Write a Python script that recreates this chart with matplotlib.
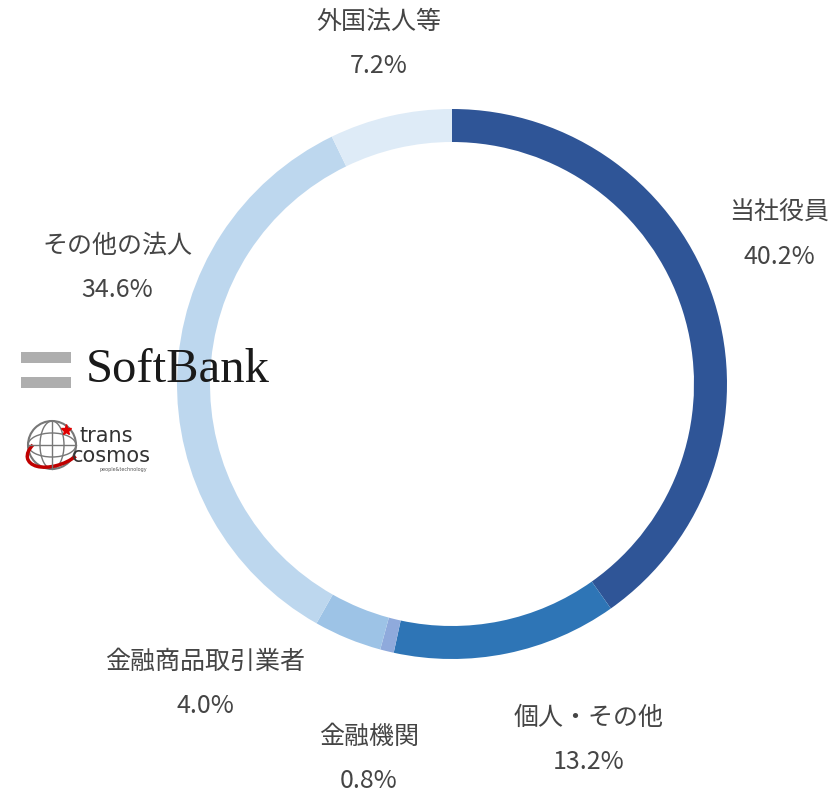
import matplotlib.pyplot as plt
from matplotlib.patches import Rectangle, Circle, Ellipse, Arc

plt.rcParams['font.family'] = ['Noto Sans CJK JP', 'DejaVu Sans']

# shareholder composition (%)
categories = ['当社役員', '個人・その他', '金融機関', '金融商品取引業者', 'その他の法人', '外国法人等']
shares = [40.2, 13.2, 0.8, 4.0, 34.6, 7.2]
colors = ['#2F5597', '#2E75B6', '#8FAADC', '#9DC3E6', '#BDD7EE', '#DEEBF7']

# label positions in pixels (x, y from top)
label_pos = [(779, 213), (589, 718), (369, 737), (205, 662), (117, 246), (379, 22)]

W, H = 835, 794
fig = plt.figure(figsize=(W / 100, H / 100), dpi=100)
ax = fig.add_axes([0, 0, 1, 1])

ax.pie(shares, colors=colors, startangle=90, counterclock=False,
       center=(452, H - 384), radius=275,
       wedgeprops=dict(width=33, linewidth=0))
ax.set_xlim(0, W)
ax.set_ylim(0, H)
ax.set_aspect('equal')
ax.axis('off')

for name, val, (x, y) in zip(categories, shares, label_pos):
    ax.text(x, H - y, name, ha='center', va='center', fontsize=18, color='#454545')
    ax.text(x, H - y - 44, f'{val:.1f}%', ha='center', va='center', fontsize=18,
            color='#454545')

# SoftBank logo
ax.add_patch(Rectangle((21, H - 363), 50, 11, color='#AEAEAE', lw=0))
ax.add_patch(Rectangle((21, H - 388), 50, 11, color='#AEAEAE', lw=0))
ax.text(86, H - 370, 'SoftBank', family='Liberation Serif', fontsize=35,
        ha='left', va='center', color='#1a1a1a')

# transcosmos logo
gx, gy, gr = 52, H - 445, 24
ax.add_patch(Circle((gx, gy), gr, fill=False, ec='#777777', lw=1.5))
ax.add_patch(Ellipse((gx, gy), gr, 2 * gr, fill=False, ec='#777777', lw=1))
ax.add_patch(Ellipse((gx, gy), 2 * gr, gr, fill=False, ec='#777777', lw=1))
ax.plot([gx - gr, gx + gr], [gy, gy], color='#777777', lw=1)
ax.plot([gx, gx], [gy - gr, gy + gr], color='#777777', lw=1)
ax.add_patch(Arc((gx + 4, gy - 4), 2 * gr + 12, gr + 8, angle=20, theta1=150, theta2=320,
                 color='#C00000', lw=2.5))
ax.plot(gx + 14, gy + 15, marker='*', color='#E00000', ms=8)
ax.text(79, H - 436, 'trans', family='DejaVu Sans', fontsize=15, ha='left', va='center',
        color='#333333')
ax.text(72, H - 456, 'cosmos', family='DejaVu Sans', fontsize=15, ha='left', va='center',
        color='#333333')
ax.text(100, H - 470, 'people&technology', family='DejaVu Sans', fontsize=3.5, ha='left',
        va='center', color='#555555')

fig.savefig('out.png', dpi=100)
